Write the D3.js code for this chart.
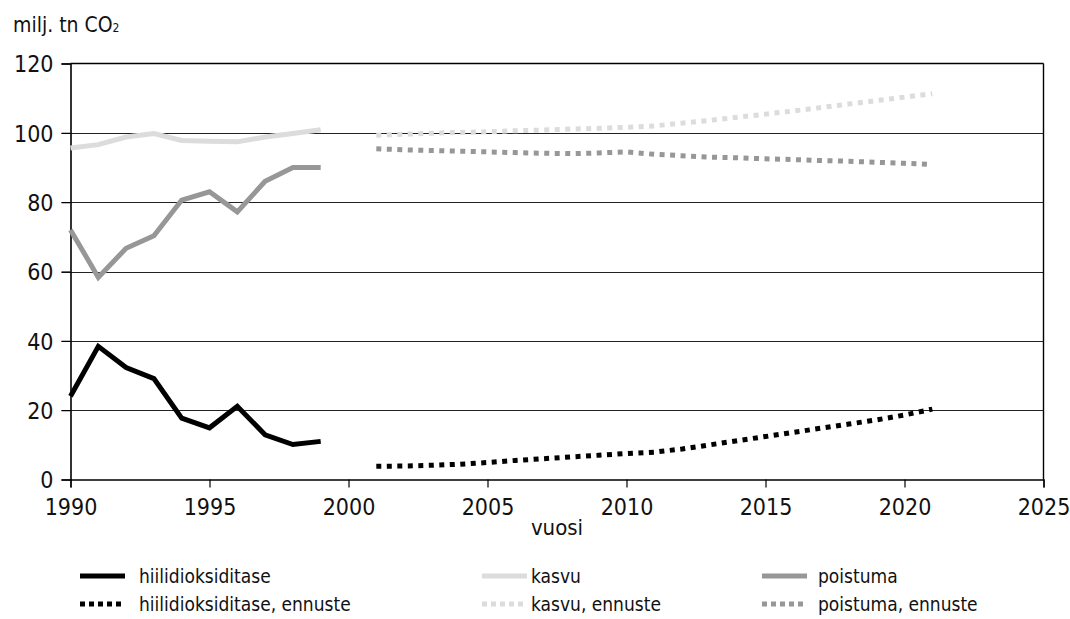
<!DOCTYPE html>
<html>
<head>
<meta charset="utf-8">
<script src="https://cdn.jsdelivr.net/npm/d3@7"></script>
<style>
  html, body { margin: 0; padding: 0; background: #fff; }
  svg text { font-family: "Liberation Sans Narrow", "DejaVu Sans Condensed", "Roboto", sans-serif; fill: #111; }
</style>
</head>
<body>
<svg id="chart" width="1070" height="619"></svg>
<script>
// ---- data ----
const histYears = [1990, 1991, 1992, 1993, 1994, 1995, 1996, 1997, 1998, 1999];
const taseHist   = [24.0, 38.4, 32.3, 29.1, 17.7, 14.9, 21.1, 12.9, 10.1, 11.0];
const kasvuHist  = [95.6, 96.6, 98.8, 99.8, 97.8, 97.6, 97.4, 98.8, 99.8, 100.9];
const poistHist  = [72.0, 58.3, 66.7, 70.3, 80.6, 83.0, 77.2, 86.0, 90.0, 90.0];

const foreYears = [2001, 2002, 2003, 2004, 2005, 2006, 2007, 2008, 2009, 2010, 2011,
                   2012, 2013, 2014, 2015, 2016, 2017, 2018, 2019, 2020, 2021];
const taseFore  = [3.8, 3.9, 4.1, 4.4, 4.9, 5.5, 6.0, 6.5, 7.0, 7.5, 7.9,
                   8.8, 10.0, 11.2, 12.4, 13.6, 14.8, 16.0, 17.2, 18.6, 20.3];
const kasvuFore = [99.3, 99.6, 99.9, 100.1, 100.3, 100.6, 100.8, 101.1, 101.3, 101.6, 102.0,
                   102.8, 103.6, 104.5, 105.4, 106.3, 107.3, 108.3, 109.3, 110.3, 111.3];
const poistFore = [95.4, 95.1, 94.9, 94.7, 94.5, 94.3, 94.1, 94.0, 94.2, 94.5, 93.8,
                   93.4, 93.0, 92.8, 92.5, 92.3, 92.0, 91.8, 91.5, 91.2, 90.9];

const xTicks = [1990, 1995, 2000, 2005, 2010, 2015, 2020, 2025];
const yTicks = [0, 20, 40, 60, 80, 100, 120];

const yTitle = "milj. tn CO";
const yTitleSub = "2";
const xTitle = "vuosi";

const seriesNames = ["hiilidioksiditase", "hiilidioksiditase, ennuste",
                     "kasvu", "kasvu, ennuste", "poistuma", "poistuma, ennuste"];

// ---- layout ----
const svg = d3.select("#chart");
const mLeft = 70.5, mRight = 1043.5, mTop = 63.5, mBottom = 479.5;

const x = d3.scaleLinear().domain([1990, 2025]).range([mLeft, mRight]);
const y = d3.scaleLinear().domain([0, 120]).range([mBottom, mTop]);

const colBlack = "#000000", colLight = "#dcdcdc", colMid = "#979797";
const fontFam = '"Liberation Sans Narrow", "DejaVu Sans Condensed", sans-serif';

// gridlines
svg.append("g").selectAll("line")
  .data(yTicks.filter(d => d > 0 && d < 120))
  .join("line")
  .attr("x1", mLeft - 9).attr("x2", mRight)
  .attr("y1", d => Math.round(y(d)) + 0.5).attr("y2", d => Math.round(y(d)) + 0.5)
  .attr("stroke", "#222").attr("stroke-width", 1);

// y axis
const yAxis = d3.axisLeft(y).tickValues(yTicks).tickSize(9).tickPadding(8).tickFormat(d3.format("d"));
const gy = svg.append("g").attr("transform", `translate(${mLeft},0)`).call(yAxis);
gy.select(".domain").attr("stroke", "#000").attr("stroke-width", 1.6);
gy.selectAll(".tick line").attr("stroke", "#000").attr("stroke-width", 1.2);
gy.selectAll(".tick text").attr("font-size", 23).attr("dy", "0.36em")
  .style("font-family", fontFam).attr("fill", "#111");

// x axis
const xAxis = d3.axisBottom(x).tickValues(xTicks).tickSize(8).tickPadding(11).tickFormat(d3.format("d"));
const gx = svg.append("g").attr("transform", `translate(0,${mBottom})`).call(xAxis);
gx.select(".domain").attr("stroke", "#000").attr("stroke-width", 1.4);
gx.selectAll(".tick line").attr("stroke", "#000").attr("stroke-width", 1.2);
gx.selectAll(".tick text").attr("font-size", 23)
  .style("font-family", fontFam).attr("fill", "#111");

// frame top/right
svg.append("line").attr("x1", mLeft).attr("x2", mRight).attr("y1", mTop).attr("y2", mTop)
  .attr("stroke", "#000").attr("stroke-width", 1.6);
svg.append("line").attr("x1", mRight).attr("x2", mRight).attr("y1", mTop).attr("y2", mBottom)
  .attr("stroke", "#000").attr("stroke-width", 1.4);

// titles
const t = svg.append("text").attr("x", 13).attr("y", 32).attr("font-size", 21).text(yTitle);
t.append("tspan").attr("font-size", 12).attr("dy", 0).text(yTitleSub);

svg.append("text").attr("x", (mLeft + mRight) / 2).attr("y", 535).attr("text-anchor", "middle")
  .attr("font-size", 22).text(xTitle);

// lines
const line = d3.line().x(d => x(d[0])).y(d => y(d[1]));
const zip = (xs, ys) => xs.map((v, i) => [v, ys[i]]);

const series = [
  { data: zip(histYears, kasvuHist), color: colLight, dash: null },
  { data: zip(histYears, poistHist), color: colMid, dash: null },
  { data: zip(histYears, taseHist), color: colBlack, dash: null },
  { data: zip(foreYears, kasvuFore), color: colLight, dash: "5,5.5" },
  { data: zip(foreYears, poistFore), color: colMid, dash: "5,5.5" },
  { data: zip(foreYears, taseFore), color: colBlack, dash: "5,5.5" }
];

svg.append("g").selectAll("path").data(series).join("path")
  .attr("d", d => line(d.data))
  .attr("fill", "none")
  .attr("stroke", d => d.color)
  .attr("stroke-width", 5)
  .attr("stroke-dasharray", d => d.dash)
  .attr("stroke-linejoin", "miter")
  .attr("stroke-linecap", "butt");

// legend
const legendItems = [
  { name: seriesNames[0], color: colBlack, dash: null, col: 0, row: 0 },
  { name: seriesNames[1], color: colBlack, dash: "5,4", col: 0, row: 1 },
  { name: seriesNames[2], color: colLight, dash: null, col: 1, row: 0 },
  { name: seriesNames[3], color: colLight, dash: "5,4", col: 1, row: 1 },
  { name: seriesNames[4], color: colMid, dash: null, col: 2, row: 0 },
  { name: seriesNames[5], color: colMid, dash: "5,4", col: 2, row: 1 }
];
const colX = [80, 482, 762];
const rowY = [576, 604];
const lg = svg.append("g").selectAll("g").data(legendItems).join("g")
  .attr("transform", d => `translate(${colX[d.col]},${rowY[d.row]})`);
lg.append("line").attr("x1", 0).attr("x2", 45).attr("y1", 0).attr("y2", 0)
  .attr("stroke", d => d.color).attr("stroke-width", 5)
  .attr("stroke-dasharray", d => d.dash);
lg.append("text").attr("x", d => d.col === 0 ? 59 : (d.col === 1 ? 49 : 56)).attr("y", 0).attr("dy", "0.35em")
  .attr("font-size", 19).text(d => d.name);
</script>
</body>
</html>
